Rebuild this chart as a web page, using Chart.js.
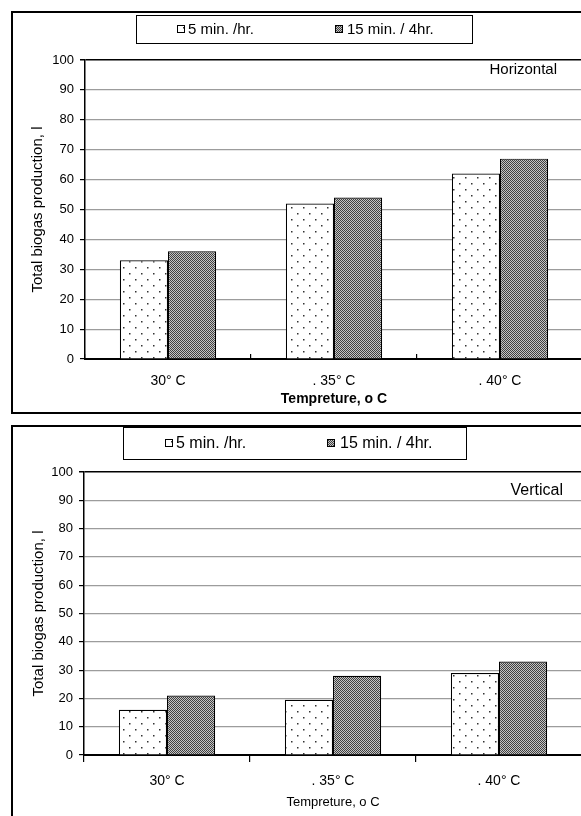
<!DOCTYPE html>
<html>
<head>
<meta charset="utf-8">
<title>Total biogas production</title>
<script src="https://cdn.jsdelivr.net/npm/chart.js@4.4.1/dist/chart.umd.min.js"></script>
<style>
  html, body { margin: 0; padding: 0; background: #fff; width: 581px; height: 816px; overflow: hidden; }
  .wrap { position: absolute; left: 0; width: 620px; }
  .panel { position: absolute; border: 2px solid #000; box-sizing: border-box; pointer-events: none; }
</style>
</head>
<body>
<div class="wrap" style="top:0;height:414px"><canvas id="topChart"></canvas></div>
<div class="wrap" style="top:414px;height:402px"><canvas id="bottomChart"></canvas></div>
<div class="panel" style="left:11px;top:11px;width:620px;height:403px"></div>
<div class="panel" style="left:11px;top:425px;width:620px;height:430px"></div>

<script>
// data
const temps = ['30° C', '. 35° C', '. 40° C'];
const seriesNames = ['5 min. /hr.', '15 min. / 4hr.'];
const horizFive = [33, 52, 62];
const horizFifteen = [36, 54, 67];
const vertFive = [16, 19.5, 29];
const vertFifteen = [21, 28, 33];
const yTicks = [0, 10, 20, 30, 40, 50, 60, 70, 80, 90, 100];

Chart.defaults.font.family = "'Liberation Sans', Arial, sans-serif";
Chart.defaults.color = '#000';

// fill patterns: sparse dots and a fine dark checker
function dotPattern() {
  const c = document.createElement('canvas');
  c.width = 12; c.height = 12;
  const g = c.getContext('2d');
  g.fillStyle = '#fff';
  g.fillRect(0, 0, 12, 12);
  g.fillStyle = '#333';
  g.fillRect(3, 3, 1.5, 1.5);
  g.fillRect(9, 9, 1.5, 1.5);
  return g.createPattern(c, 'repeat');
}

function checkPattern() {
  const c = document.createElement('canvas');
  c.width = 2; c.height = 2;
  const g = c.getContext('2d');
  g.fillStyle = '#c4c4c4';
  g.fillRect(0, 0, 2, 2);
  g.fillStyle = '#404040';
  g.fillRect(0, 0, 1, 1);
  g.fillRect(1, 1, 1, 1);
  return g.createPattern(c, 'repeat');
}

const boxLegend = {
  id: 'boxLegend',
  afterDraw(chart, args, opts) {
    const ctx = chart.ctx;
    const [x1, y1, x2, y2] = opts.box;
    const cy = (y1 + y2) / 2;
    ctx.save();
    ctx.strokeStyle = '#000';
    ctx.lineWidth = 1;
    ctx.strokeRect(x1 + 0.5, y1 + 0.5, x2 - x1, y2 - y1);
    ctx.font = opts.size + "px 'Liberation Sans', Arial, sans-serif";
    ctx.textBaseline = 'middle';
    ctx.textAlign = 'left';
    chart.data.datasets.forEach((ds, i) => {
      const it = opts.items[i];
      ctx.fillStyle = ds.backgroundColor;
      ctx.fillRect(it.x, cy - 4, 8, 8);
      ctx.strokeRect(it.x + 0.5, cy - 3.5, 7, 7);
      ctx.fillStyle = '#000';
      ctx.fillText(ds.label, it.tx, cy + 1);
    });
    ctx.restore();
  }
};

const cornerLabel = {
  id: 'cornerLabel',
  afterDraw(chart, args, opts) {
    const ctx = chart.ctx;
    ctx.save();
    ctx.font = opts.size + "px 'Liberation Sans', Arial, sans-serif";
    ctx.fillStyle = '#000';
    ctx.textAlign = 'right';
    ctx.textBaseline = 'middle';
    ctx.fillText(opts.text, opts.x, opts.y);
    ctx.restore();
  }
};

function makeChart(id, five, fifteen, o) {
  return new Chart(document.getElementById(id), {
    type: 'bar',
    data: {
      labels: temps,
      datasets: [
        { label: seriesNames[0], data: five, backgroundColor: dotPattern() },
        { label: seriesNames[1], data: fifteen, backgroundColor: checkPattern() }
      ]
    },
    options: {
      responsive: true,
      maintainAspectRatio: false,
      animation: false,
      devicePixelRatio: 1,
      layout: { padding: { left: 0, top: o.plotTop, right: 620 - o.plotRight, bottom: 0 } },
      datasets: {
        bar: { borderColor: '#000', borderWidth: 1.2, categoryPercentage: 0.58, barPercentage: 1 }
      },
      scales: {
        x: {
          afterFit: s => { s.height = o.height - o.plotBottom; },
          grid: { offset: true, drawOnChartArea: false, color: '#000', tickLength: o.xTick, lineWidth: 1.2 },
          border: { color: '#000', width: 2 },
          ticks: { font: { size: 14 }, padding: o.xPad, color: '#000' },
          title: {
            display: true,
            text: 'Tempreture, o C',
            font: { size: o.titleSize, weight: o.titleWeight },
            padding: { top: 0, bottom: o.titleBottom },
            color: '#000'
          }
        },
        y: {
          min: 0,
          max: 100,
          afterFit: s => { s.width = o.plotLeft; },
          afterBuildTicks: s => { s.ticks = yTicks.map(v => ({ value: v })); },
          grid: {
            color: c => (c.tick && c.tick.value === 100) ? '#000' : '#9c9c9c',
            lineWidth: c => (c.tick && c.tick.value === 100) ? 1.5 : 1.2,
            tickColor: '#000',
            tickLength: 5
          },
          border: { color: '#000', width: 1.5 },
          ticks: { font: { size: 13 }, padding: 6, color: '#000' },
          title: {
            display: true,
            text: 'Total biogas production, l',
            font: { size: 15 },
            padding: { top: o.yTitleTop, bottom: 0 },
            color: '#000'
          }
        }
      },
      plugins: {
        legend: { display: false },
        tooltip: { enabled: false },
        boxLegend: { box: o.legendBox, items: o.legendItems, size: o.legendSize },
        cornerLabel: o.corner
      }
    },
    plugins: [boxLegend, cornerLabel]
  });
}

makeChart('topChart', horizFive, horizFifteen, {
  height: 414, plotTop: 60, plotBottom: 359, plotLeft: 85, plotRight: 583,
  xTick: -5, xPad: 19, titleSize: 14, titleWeight: 'bold', titleBottom: 6, yTitleTop: 29,
  legendBox: [136, 15, 472, 43],
  legendItems: [{ x: 177, tx: 188 }, { x: 335, tx: 347 }],
  legendSize: 15,
  corner: { text: 'Horizontal', x: 557, y: 70, size: 15 }
});

makeChart('bottomChart', vertFive, vertFifteen, {
  height: 402, plotTop: 58, plotBottom: 341, plotLeft: 84, plotRight: 582,
  xTick: 7, xPad: 11, titleSize: 13, titleWeight: 'normal', titleBottom: 6, yTitleTop: 30,
  legendBox: [123, 13, 466, 45],
  legendItems: [{ x: 165, tx: 176 }, { x: 327, tx: 340 }],
  legendSize: 16,
  corner: { text: 'Vertical', x: 563, y: 77, size: 16 }
});
</script>
</body>
</html>
